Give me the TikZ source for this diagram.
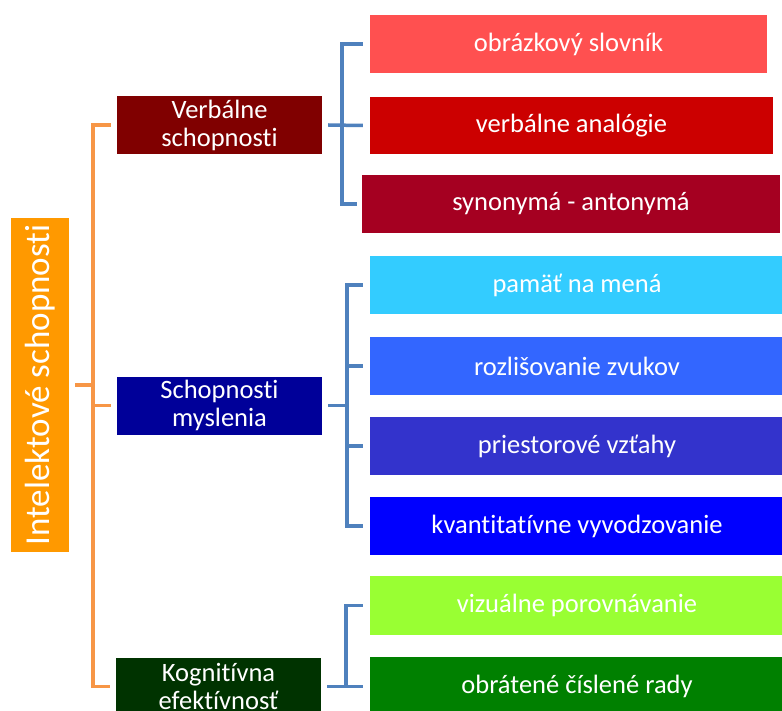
\documentclass[tikz,border=0pt]{standalone}
\usepackage{fontspec}
\setmainfont{Carlito}[Ligatures=NoCommon]
\definecolor{cRoot}{HTML}{FF9900}
\definecolor{cVerb}{HTML}{800000}
\definecolor{cMysl}{HTML}{000099}
\definecolor{cKogn}{HTML}{003300}
\definecolor{cA}{HTML}{FF5050}
\definecolor{cB}{HTML}{CC0000}
\definecolor{cC}{HTML}{A50021}
\definecolor{cD}{HTML}{33CCFF}
\definecolor{cE}{HTML}{3366FF}
\definecolor{cF}{HTML}{3333CC}
\definecolor{cG}{HTML}{0000FF}
\definecolor{cH}{HTML}{99FF33}
\definecolor{cI}{HTML}{008000}
\definecolor{oLine}{HTML}{F79646}
\definecolor{bLine}{HTML}{4F81BD}
\begin{document}
\begin{tikzpicture}[x=1pt,y=-1pt,
  box/.style={rectangle, inner sep=0pt, text=white, align=center,
    font=\fontsize{26.5}{28}\selectfont},
  mid/.style={box, minimum width=205pt, minimum height=58pt},
  leaf/.style={box, minimum height=58pt},
  oline/.style={draw=oLine, line width=3.5pt},
  bline/.style={draw=bLine, line width=3.5pt}]
\useasboundingbox (0,0) rectangle (782,711);
\fill[white] (0,0) rectangle (782,711);
% root
\node[box, fill=cRoot, minimum width=58pt, minimum height=334pt,
  font=\fontsize{35}{40}\selectfont] (root) at (40,385)
  {\rotatebox{90}{Intelektové schopnosti}};
% middle level
\node[mid, fill=cVerb] (verb) at (219.5,125) {Verbálne\\schopnosti};
\node[mid, fill=cMysl] (mysl) at (219.5,405.5) {Schopnosti\\myslenia};
\node[mid, fill=cKogn] (kogn) at (218.5,686.5) {Kognitívna\\efektívnosť};
% leaves
\node[leaf, fill=cA, minimum width=397pt] (c1) at (568.5,44) {obrázkový slovník};
\node[leaf, fill=cB, minimum width=403pt, minimum height=57pt] (c2) at (571.5,125.5) {verbálne analógie};
\node[leaf, fill=cC, minimum width=418pt] (c3) at (571,204) {synonymá - antonymá};
\node[leaf, fill=cD, minimum width=414pt] (c4) at (577,285) {pamäť na mená};
\node[leaf, fill=cE, minimum width=414pt] (c5) at (577,366) {rozlišovanie zvukov};
\node[leaf, fill=cF, minimum width=414pt] (c6) at (577,446) {priestorové vzťahy};
\node[leaf, fill=cG, minimum width=414pt] (c7) at (577,526) {kvantitatívne vyvodzovanie};
\node[leaf, fill=cH, minimum width=414pt, minimum height=59pt] (c8) at (577,605.5) {vizuálne porovnávanie};
\node[leaf, fill=cI, minimum width=414pt, minimum height=59pt] (c9) at (577,686.5) {obrátené číslené rady};
% orange connectors
\coordinate (os) at ([xshift=-24pt]verb.west);
\draw[oline] ([xshift=-6pt]verb.west) -- (os) -- (os |- kogn.west) -- ([xshift=-6pt]kogn.west);
\draw[oline] ([xshift=-6pt]mysl.west) -- (os |- mysl.west);
\draw[oline] ([xshift=6pt]root.east) -- (os |- root.east);
% blue connectors group 1
\coordinate (b1) at ([xshift=20pt]verb.east);
\draw[bline] ([xshift=-7pt]c1.west) -- (b1 |- c1.west) -- (b1 |- c3.west) -- ([xshift=-5pt]c3.west);
\draw[bline] ([xshift=6pt]verb.east) -- ([xshift=-7pt]c2.west);
% group 2
\coordinate (b2) at ([xshift=25pt]mysl.east);
\draw[bline] ([xshift=-7pt]c4.west) -- (b2 |- c4.west) -- (b2 |- c7.west) -- ([xshift=-7pt]c7.west);
\draw[bline] ([xshift=-7pt]c5.west) -- (b2 |- c5.west);
\draw[bline] ([xshift=-7pt]c6.west) -- (b2 |- c6.west);
\draw[bline] ([xshift=6pt]mysl.east) -- (b2);
% group 3
\coordinate (b3) at ([xshift=25pt]kogn.east);
\draw[bline] ([xshift=-7pt]c8.west) -- (b3 |- c8.west) -- (b3);
\draw[bline] ([xshift=6pt]kogn.east) -- ([xshift=-7pt]c9.west);
\end{tikzpicture}
\end{document}
